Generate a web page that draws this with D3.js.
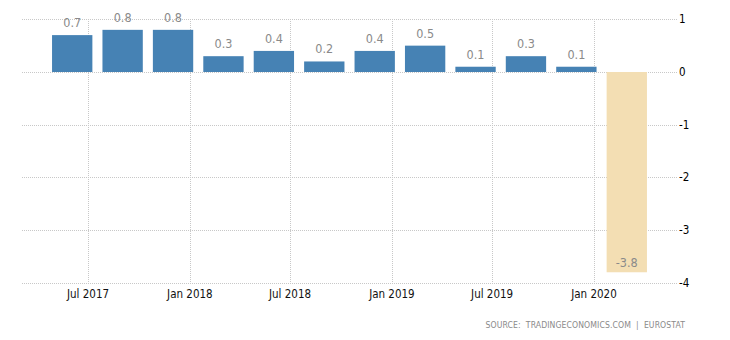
<!DOCTYPE html>
<html>
<head>
<meta charset="utf-8">
<script src="https://cdn.jsdelivr.net/npm/d3@7"></script>
<style>
  html, body { margin: 0; padding: 0; background: #fff; }
  svg { display: block; }
  text { font-family: "DejaVu Sans Condensed", "DejaVu Sans", sans-serif; }
</style>
</head>
<body>
<svg id="chart" width="730" height="340"></svg>
<script>
const categories = ["2017Q2","2017Q3","2017Q4","2018Q1","2018Q2","2018Q3","2018Q4","2019Q1","2019Q2","2019Q3","2019Q4","2020Q1"];
const values = [0.7, 0.8, 0.8, 0.3, 0.4, 0.2, 0.4, 0.5, 0.1, 0.3, 0.1, -3.8];
const xTickDates = ["2017-07-01","2018-01-01","2018-07-01","2019-01-01","2019-07-01","2020-01-01"];
const xTickLabels = ["Jul 2017","Jan 2018","Jul 2018","Jan 2019","Jul 2019","Jan 2020"];
const yTicks = [1, 0, -1, -2, -3, -4];
const sourceText = "SOURCE:  TRADINGECONOMICS.COM  |  EUROSTAT";

const svg = d3.select("#chart");
const gridLeft = 22, gridRight = 677;

const y = d3.scaleLinear().domain([-4, 1]).range([282.8, 19.3]);
const x = d3.scaleBand().domain(categories).range([47, 652]).paddingInner(0.2).paddingOuter(0.1);
const parse = d3.timeParse("%Y-%m-%d");
const xt = d3.scaleTime().domain([parse("2017-07-01"), parse("2020-01-01")]).range([88, 594]);

const grid = svg.append("g").attr("stroke", "#c8c8c8").attr("stroke-dasharray", "1,1").attr("shape-rendering", "crispEdges");
grid.selectAll("line.h").data(yTicks).join("line")
  .attr("x1", gridLeft).attr("x2", gridRight)
  .attr("y1", d => Math.round(y(d)) + 0.5).attr("y2", d => Math.round(y(d)) + 0.5);
grid.selectAll("line.v").data(xTickDates).join("line")
  .attr("x1", d => Math.round(xt(parse(d))) + 0.5).attr("x2", d => Math.round(xt(parse(d))) + 0.5)
  .attr("y1", y(1)).attr("y2", y(-4) + 2);

svg.append("g").selectAll("rect").data(values).join("rect")
  .attr("x", (d, i) => x(categories[i]))
  .attr("width", x.bandwidth())
  .attr("y", d => y(Math.max(0, d)))
  .attr("height", d => Math.abs(y(d) - y(0)))
  .attr("fill", d => d < 0 ? "#F3DEB3" : "#4682B4");

svg.append("g").selectAll("text").data(values).join("text")
  .attr("x", (d, i) => x(categories[i]) + x.bandwidth() / 2)
  .attr("y", d => d < 0 ? y(d) - 5 : y(d) - 8)
  .attr("text-anchor", "middle")
  .attr("font-size", 12.5)
  .attr("fill", "#8a8a8a")
  .text(d => d.toFixed(1));

svg.append("g").selectAll("text").data(xTickDates).join("text")
  .attr("x", d => xt(parse(d)))
  .attr("y", 298)
  .attr("text-anchor", "middle")
  .attr("font-size", 11.5)
  .attr("fill", "#111")
  .text((d, i) => xTickLabels[i]);

svg.append("g").selectAll("text").data(yTicks).join("text")
  .attr("x", 679)
  .attr("y", d => y(d) + 4)
  .attr("text-anchor", "start")
  .attr("font-size", 11.5)
  .attr("fill", "#000")
  .text(d => d);

svg.append("text")
  .attr("x", 685).attr("y", 328)
  .attr("text-anchor", "end")
  .attr("font-size", 8.6)
  .attr("letter-spacing", 0.1)
  .attr("fill", "#8a8a8a")
  .attr("xml:space", "preserve")
  .style("white-space", "pre")
  .text(sourceText);
</script>
</body>
</html>
